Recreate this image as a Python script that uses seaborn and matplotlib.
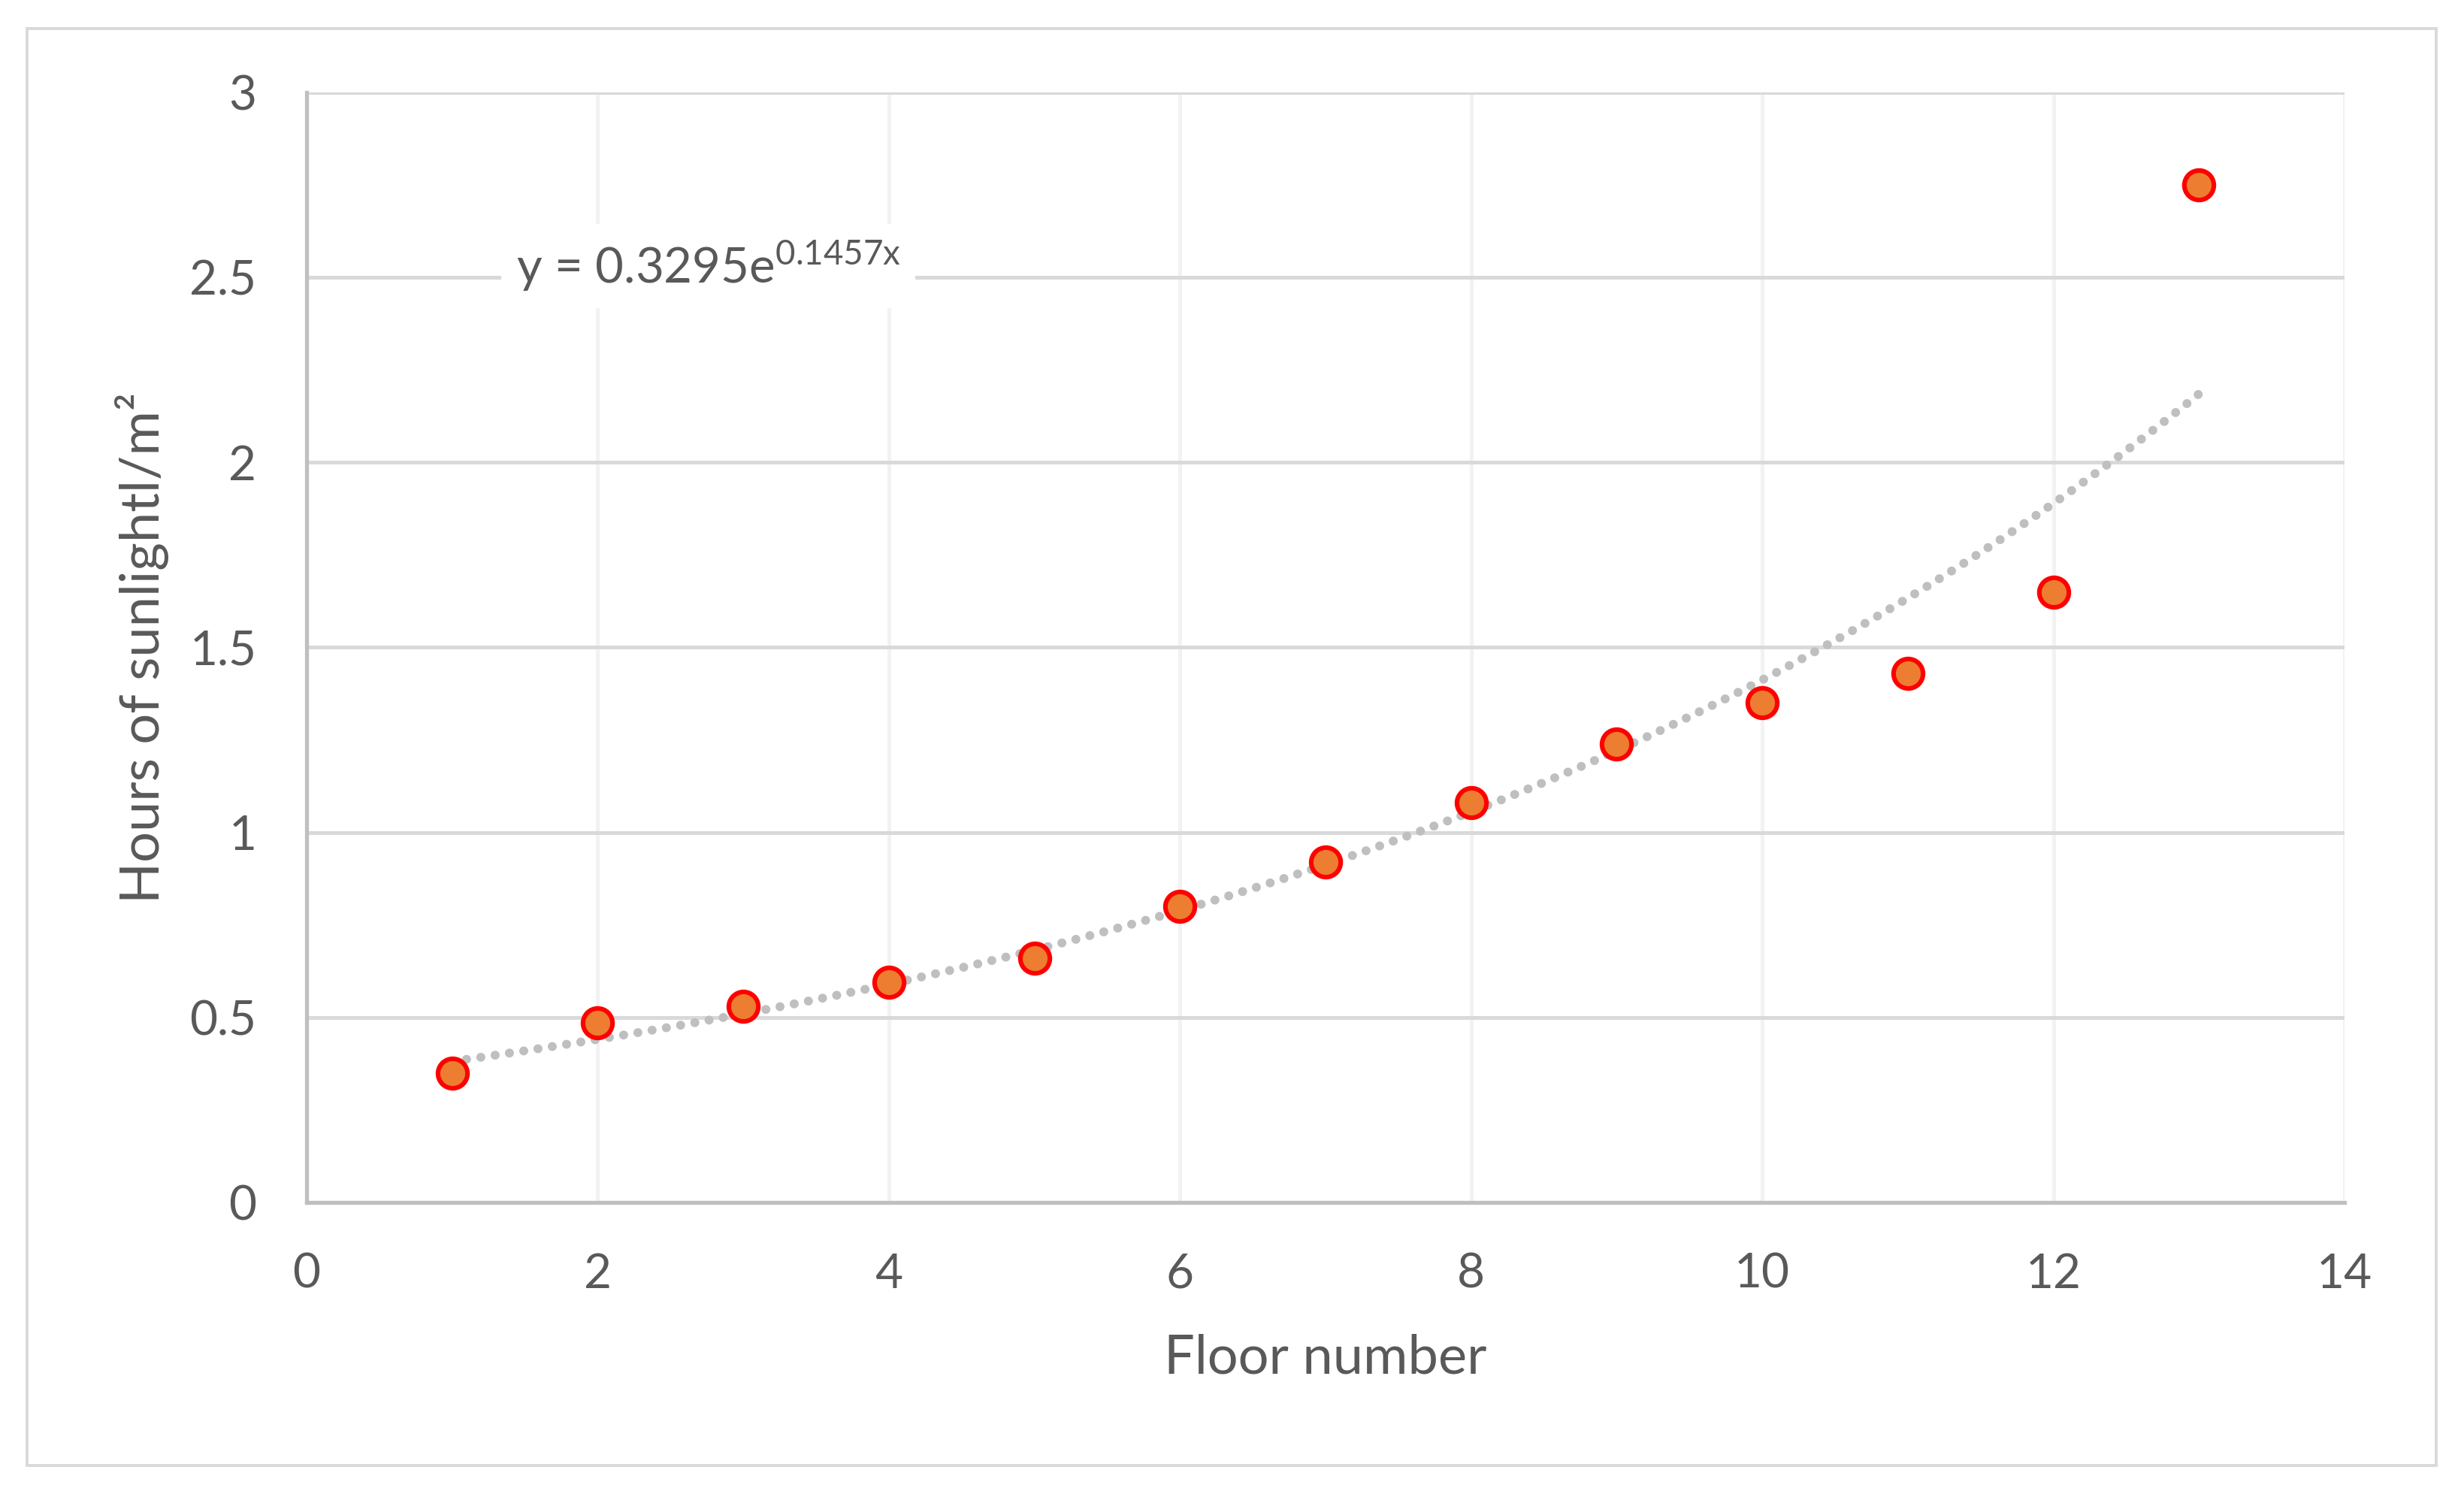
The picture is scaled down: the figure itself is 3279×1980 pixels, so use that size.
import numpy as np
import pandas as pd
import matplotlib
matplotlib.use("Agg")
import matplotlib.pyplot as plt
import seaborn as sns
from matplotlib.patches import Rectangle
from matplotlib.ticker import FuncFormatter, MultipleLocator

# ---- data ----
floors = [1, 2, 3, 4, 5, 6, 7, 8, 9, 10, 11, 12, 13]
sun_hours = [0.35, 0.485, 0.53, 0.595, 0.66, 0.80, 0.92, 1.08, 1.24, 1.35, 1.43, 1.65, 2.75]
equation_label = "y = 0.3295e$^{\\mathrm{0.1457x}}$"
x_title = "Floor number"
y_title = "Hours of sunlightl/m\u00b2"

df = pd.DataFrame({"floor": floors, "hours": sun_hours})

# exponential trendline fitted from the data
b, ln_a = np.polyfit(df["floor"], np.log(df["hours"]), 1)
trend_x = np.linspace(min(floors), max(floors), 200)
trend = pd.DataFrame({"floor": trend_x, "hours": np.exp(ln_a) * np.exp(b * trend_x)})

sns.set_theme(style="white")
plt.rcParams["font.family"] = ["Lato", "DejaVu Sans"]
plt.rcParams["mathtext.fontset"] = "custom"
plt.rcParams["mathtext.rm"] = "Lato"
plt.rcParams["mathtext.it"] = "Lato:italic"

TEXT = "#595959"
fig = plt.figure(figsize=(16.4, 9.9), dpi=200)
ax = fig.add_axes([0.1244, 0.1919, 0.9512 - 0.1244, 0.9379 - 0.1919])

# outer chart frame
fig.patches.append(Rectangle((36 / 3280, 1 - 1950 / 1980), (3242 - 36) / 3280, (1950 - 38) / 1980,
                             transform=fig.transFigure, fill=False, edgecolor="#d9d9d9",
                             linewidth=1.4, zorder=0))

# gridlines
ax.set_xlim(0, 14)
ax.set_ylim(0, 3)
ax.xaxis.set_major_locator(MultipleLocator(2))
ax.yaxis.set_major_locator(MultipleLocator(0.5))
for xv in np.arange(2, 15, 2):
    ax.axvline(xv, color="#f2f2f2", lw=1.8, zorder=0)
for yv in np.arange(0.5, 3.01, 0.5):
    ax.axhline(yv, color="#d9d9d9", lw=1.8, zorder=0.5)

sns.lineplot(data=trend, x="floor", y="hours", ax=ax, color="#bfbfbf", lw=4.3,
             linestyle=(0, (0.01, 1.6)), dash_capstyle="round", zorder=2)
sns.scatterplot(data=df, x="floor", y="hours", ax=ax, s=200, color="#ED7D31",
                edgecolor="#FF0000", linewidth=2.2, zorder=3)

for s in ["top", "right"]:
    ax.spines[s].set_visible(False)
for s in ["left", "bottom"]:
    ax.spines[s].set_color("#bfbfbf")
    ax.spines[s].set_linewidth(1.9)
    ax.spines[s].set_zorder(1)

fmt = FuncFormatter(lambda v, p: f"{v:g}")
ax.xaxis.set_major_formatter(fmt)
ax.yaxis.set_major_formatter(fmt)
ax.tick_params(axis="both", length=0, labelsize=23, colors=TEXT, pad=24)

ax.set_xlabel(x_title, fontsize=26, color=TEXT, labelpad=18)
ax.set_ylabel(y_title, fontsize=26, color=TEXT, labelpad=10)

ax.text(2.76, 2.484, equation_label, fontsize=23.5, color=TEXT, ha="center", va="baseline",
        bbox=dict(facecolor="white", edgecolor="none", pad=7), zorder=4)

fig.savefig("out.png", dpi=200, facecolor="white")
